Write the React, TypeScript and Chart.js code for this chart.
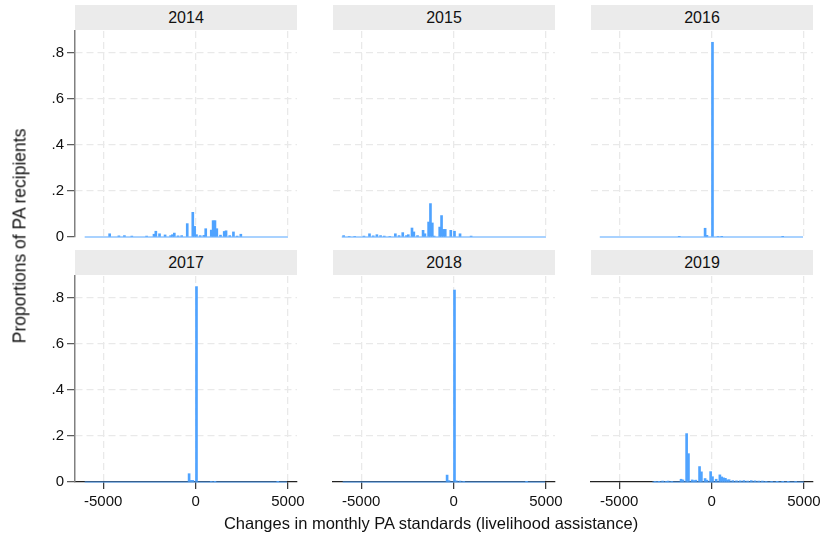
import React, { useEffect, useRef } from "react";
import { Chart, registerables } from "chart.js";

Chart.register(...registerables);

// ---- Data (bin centres of change in monthly PA standards, proportion of recipients) ----
const years = ["2014", "2015", "2016", "2017", "2018", "2019"];

const change2014 = [-4650, -4150, -3850, -3450, -2650, -2250, -2150, -1950, -1650, -1350, -1250, -1150, -950, -750, -450, -150, -50, 50, 250, 450, 550, 850, 950, 1050, 1150, 1350, 1550, 1650, 1850, 2050, 2250, 2450];
const share2014 = [0.014, 0.005, 0.006, 0.004, 0.004, 0.012, 0.025, 0.014, 0.009, 0.006, 0.01, 0.017, 0.005, 0.006, 0.058, 0.107, 0.046, 0.01, 0.006, 0.007, 0.036, 0.03, 0.071, 0.071, 0.036, 0.008, 0.024, 0.027, 0.006, 0.022, 0.004, 0.012];

const change2015 = [-5950, -5650, -5350, -4850, -4550, -4350, -4150, -3950, -3750, -3450, -3150, -2950, -2750, -2550, -2450, -2250, -2150, -1950, -1650, -1550, -1350, -1250, -1150, -1050, -750, -650, -550, -450, -150, 50, 350, 950];
const share2015 = [0.006, 0.003, 0.003, 0.004, 0.014, 0.005, 0.01, 0.006, 0.004, 0.003, 0.014, 0.006, 0.019, 0.006, 0.01, 0.039, 0.022, 0.006, 0.029, 0.014, 0.065, 0.145, 0.061, 0.004, 0.043, 0.093, 0.033, 0.033, 0.029, 0.025, 0.014, 0.004];

const change2016 = [-1750, -350, -250, 50, 350, 550, 3850];
const share2016 = [0.002, 0.038, 0.007, 0.845, 0.003, 0.002, 0.002];

const change2017 = [-350, -250, -150, 50, 850, 1050, 4450];
const share2017 = [0.036, 0.007, 0.007, 0.848, 0.003, 0.002, 0.002];

const change2018 = [-350, -250, 50, 150, 350, 550, 3950];
const share2018 = [0.03, 0.006, 0.833, 0.005, 0.004, 0.003, 0.002];

const change2019 = [-3050, -2850, -2650, -2450, -2350, -2150, -1650, -1550, -1350, -1250, -1050, -950, -850, -650, -550, -350, -250, -50, 50, 250, 450, 550, 650, 750, 850, 950, 1150, 1350, 1550, 1750, 1950, 2150, 2350, 2550, 2750, 2950, 3250, 3550, 3850, 4150, 4550];
const share2019 = [0.003, 0.002, 0.004, 0.003, 0.004, 0.003, 0.012, 0.009, 0.21, 0.123, 0.009, 0.006, 0.008, 0.067, 0.044, 0.015, 0.008, 0.045, 0.023, 0.012, 0.031, 0.022, 0.018, 0.016, 0.009, 0.01, 0.006, 0.005, 0.005, 0.006, 0.004, 0.006, 0.005, 0.004, 0.004, 0.003, 0.003, 0.002, 0.002, 0.002, 0.003];

const changes = [change2014, change2015, change2016, change2017, change2018, change2019];
const shares = [share2014, share2015, share2016, share2017, share2018, share2019];

// observed range of changes per year (thin band of tiny proportions along zero)
const rangeMin = [-6000, -6050, -6050, -6000, -6000, -3200];
const rangeMax = [5000, 5000, 4950, 4950, 4950, 5000];

const xTicks = [-5000, 0, 5000];
const yTicks = [0, 0.2, 0.4, 0.6, 0.8];
const xMin = -6525;
const xMax = 5490;
const yMax = 0.894;

const xTitle = "Changes in monthly PA standards (livelihood assistance)";
const yTitle = "Proportions of PA recipients";

// ---- Layout ----
const FONT = "'Liberation Sans', Arial, sans-serif";
const PLOT_W = 222;
const PLOT_H = 206;
const COL_L = [75, 333, 591];
const ROW_T = [31, 276];
const AXIS_W = 60;
const AXIS_H = 36;
const PAD_T = 10;
const PAD_R = 24;
const PAD_B = 12;
const BAR = "#4fa3ff";

function Panel({ idx }: { idx: number }) {
  const ref = useRef<HTMLCanvasElement | null>(null);
  const r = Math.floor(idx / 3);
  const c = idx % 3;
  const showY = c === 0;
  const showX = r === 1;
  const w = AXIS_W + PLOT_W + PAD_R;
  const h = PAD_T + PLOT_H + (showX ? AXIS_H : PAD_B);
  const left = COL_L[c] - AXIS_W;
  const top = ROW_T[r] - PAD_T;

  useEffect(() => {
    if (!ref.current) return;
    const xs = changes[idx];
    const ys = shares[idx];
    const chart = new Chart(ref.current, {
      type: "bar",
      data: {
        datasets: [
          {
            type: "bar",
            data: xs.map((x, i) => ({ x, y: ys[i] })),
            backgroundColor: BAR,
            borderWidth: 0,
            barThickness: 2,
            order: 0,
          } as any,
          {
            type: "line",
            data: [
              { x: rangeMin[idx], y: 0 },
              { x: rangeMax[idx], y: 0 },
            ],
            borderColor: "rgba(79,163,255,0.65)",
            borderWidth: 1.6,
            pointRadius: 0,
            clip: false,
            order: 1,
          } as any,
        ],
      },
      options: {
        animation: false,
        responsive: false,
        maintainAspectRatio: false,
        layout: {
          padding: {
            left: showY ? 0 : AXIS_W,
            top: PAD_T,
            right: PAD_R,
            bottom: showX ? 0 : PAD_B,
          },
        },
        plugins: { legend: { display: false }, tooltip: { enabled: false } },
        scales: {
          x: {
            type: "linear",
            min: xMin,
            max: xMax,
            offset: false,
            afterBuildTicks: (s: any) => {
              s.ticks = xTicks.map((v) => ({ value: v }));
            },
            afterFit: (s: any) => {
              s.height = showX ? AXIS_H : 0;
              s.paddingLeft = 0;
              s.paddingRight = 0;
            },
            ticks: {
              display: showX,
              autoSkip: false,
              maxRotation: 0,
              padding: 4,
              color: "#111",
              font: { family: FONT, size: 15 },
              callback: (v: any) => String(v),
            },
            grid: {
              offset: false,
              color: "#e9e9e9",
              lineWidth: 1.3,
              drawTicks: showX,
              tickLength: 7,
              tickColor: "#333",
              tickWidth: 1.2,
            },
            border: { display: showX, color: "#222", width: 1.3, dash: [7, 4] },
          } as any,
          y: {
            min: 0,
            max: yMax,
            afterBuildTicks: (s: any) => {
              s.ticks = yTicks.map((v) => ({ value: v }));
            },
            afterFit: (s: any) => {
              s.width = showY ? AXIS_W : 0;
              s.paddingTop = 0;
              s.paddingBottom = 0;
            },
            ticks: {
              display: showY,
              padding: 3,
              color: "#111",
              font: { family: FONT, size: 15 },
              callback: (v: any) => (v === 0 ? "0" : String(v).replace("0.", ".")),
            },
            grid: {
              color: (ctx: any) => (ctx.tick && ctx.tick.value === 0 ? "rgba(0,0,0,0)" : "#e9e9e9"),
              lineWidth: 1.3,
              drawTicks: showY,
              tickLength: 8,
              tickColor: "#555",
              tickWidth: 1.2,
            },
            border: { display: showY, color: "#808080", width: 1.5, dash: [7, 4] },
          } as any,
        },
      },
    });
    return () => chart.destroy();
  }, [idx]);

  return (
    <>
      <div
        style={{
          position: "absolute",
          left: COL_L[c],
          top: ROW_T[r] - 26,
          width: PLOT_W,
          height: 25,
          background: "#ebebeb",
          textAlign: "center",
          lineHeight: "25px",
          fontFamily: FONT,
          fontSize: 16,
          color: "#111",
        }}
      >
        {years[idx]}
      </div>
      <canvas
        ref={ref}
        width={w}
        height={h}
        style={{ position: "absolute", left, top, width: w, height: h }}
      />
    </>
  );
}

export default function App() {
  return (
    <div
      style={{
        position: "absolute",
        left: 0,
        top: 0,
        width: 827,
        height: 536,
        background: "#fff",
        overflow: "hidden",
      }}
    >
      {years.map((_, i) => (
        <Panel key={i} idx={i} />
      ))}
      <div
        style={{
          position: "absolute",
          left: 20,
          top: 236,
          transform: "translate(-50%, -50%) rotate(-90deg)",
          whiteSpace: "nowrap",
          fontFamily: FONT,
          fontSize: 17.5,
          color: "#111",
        }}
      >
        {yTitle}
      </div>
      <div
        style={{
          position: "absolute",
          left: 431,
          top: 523,
          transform: "translate(-50%, -50%)",
          whiteSpace: "nowrap",
          fontFamily: FONT,
          fontSize: 16.5,
          color: "#111",
        }}
      >
        {xTitle}
      </div>
    </div>
  );
}
